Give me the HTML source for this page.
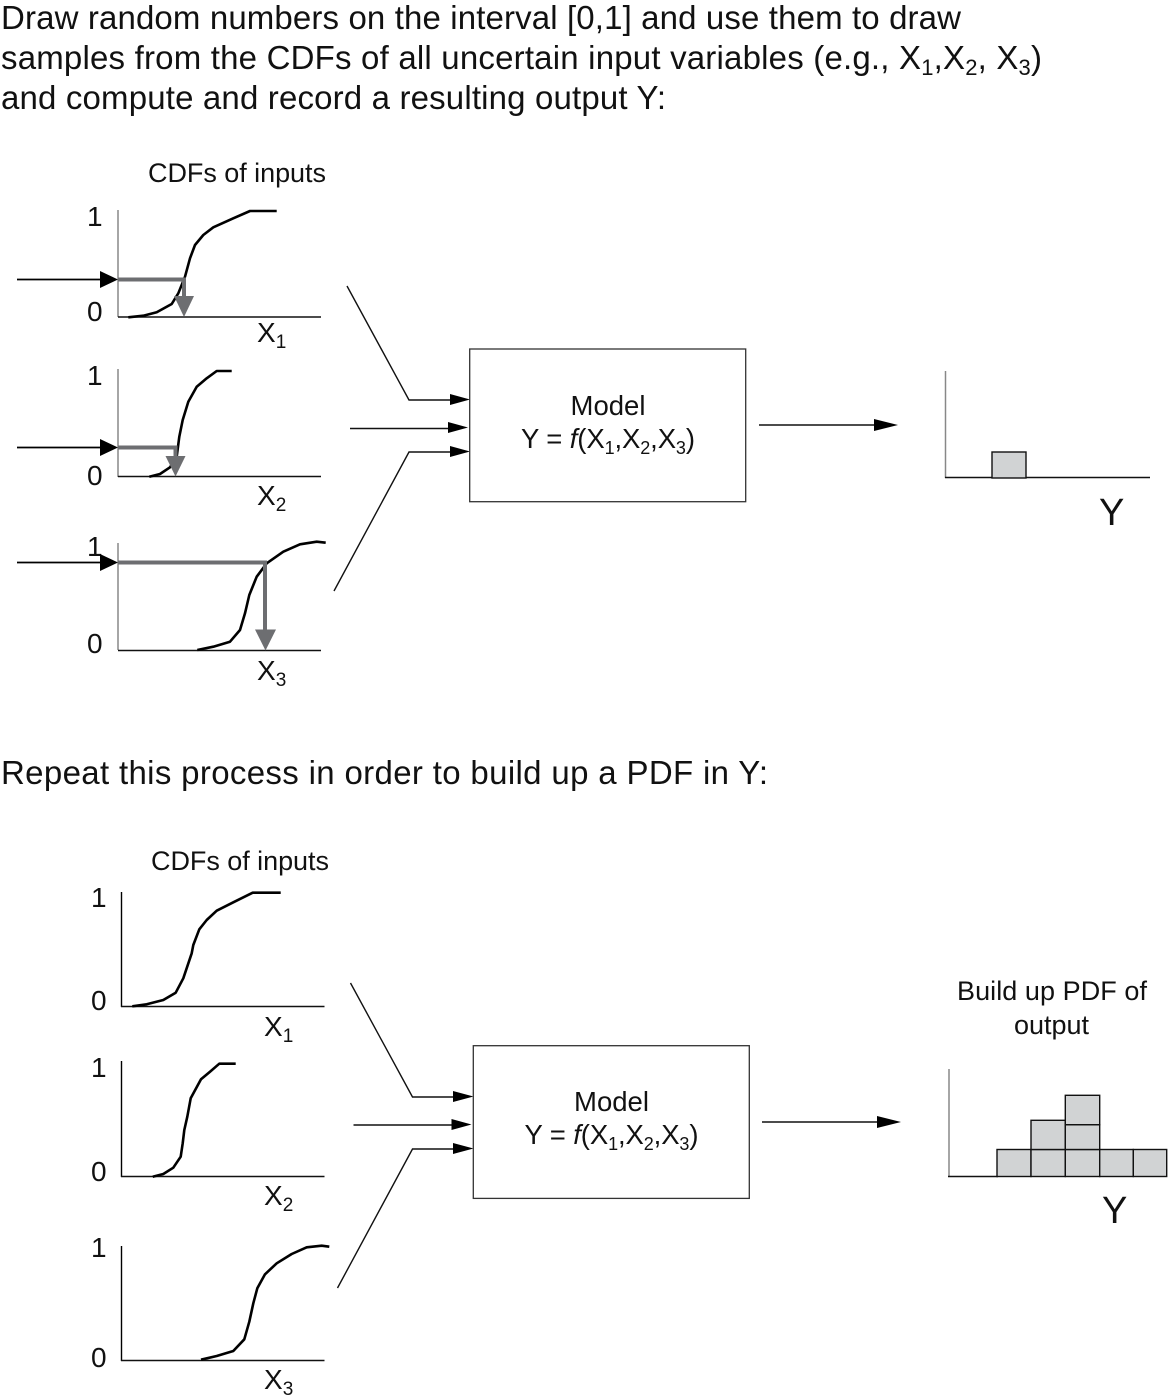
<!DOCTYPE html>
<html><head><meta charset="utf-8"><style>
html,body{margin:0;padding:0;background:#fff}
svg{display:block}
text{font-family:"Liberation Sans",sans-serif;fill:#111}
.h{font-size:33px}
.m{font-size:27.5px}
.l{font-size:27px}
.x{font-size:28px}
.c{fill:none;stroke:#000;stroke-width:2.6;stroke-linejoin:round}
.a{stroke:#111;stroke-width:1.4;fill:none}
.t{stroke:#000;stroke-width:1.8;fill:none}
.g{stroke:#6d6e71;stroke-width:4;fill:none}
.gh{fill:#6d6e71}
.b{fill:#d1d3d4;stroke:#111;stroke-width:1.4}
.y{stroke:#888;stroke-width:1.5}
</style></head><body>
<svg width="1168" height="1400" viewBox="0 0 1168 1400" xmlns="http://www.w3.org/2000/svg">
<text class="h" x="1" y="29" textLength="960">Draw random numbers on the interval [0,1] and use them to draw</text>
<text class="h" x="1" y="69" textLength="1041">samples from the CDFs of all uncertain input variables (e.g., X<tspan font-size="22" dy="6">1</tspan><tspan dy="-6">,X</tspan><tspan font-size="22" dy="6">2</tspan><tspan dy="-6">, X</tspan><tspan font-size="22" dy="6">3</tspan><tspan dy="-6">)</tspan></text>
<text class="h" x="1" y="109" textLength="665">and compute and record a resulting output Y:</text>
<text class="h" x="1" y="784" textLength="767">Repeat this process in order to build up a PDF in Y:</text>

<!-- TOP: graph 1 -->
<text class="l" x="148" y="182" textLength="178">CDFs of inputs</text>
<text class="x" x="87" y="226">1</text><text class="x" x="87" y="321">0</text>
<line class="y" x1="118" y1="210" x2="118" y2="317"/><line class="a" x1="118" y1="317" x2="321" y2="317"/>
<polyline class="c" points="128.3,317.3 143.3,315.7 156.7,312.3 171.7,304 178.3,293.3 185,276.7 190,258.3 195,245 203.3,235 213.3,227.3 233.3,218.3 250,211 276.7,211"/>
<line class="t" x1="17" y1="279.5" x2="102" y2="279.5"/><polygon points="100,271 118,279.5 100,288" fill="#000"/>
<polyline class="g" points="118,279.5 184,279.5 184,298"/><polygon class="gh" points="174,296 194,296 184,317"/>
<text class="x" x="257" y="342">X<tspan font-size="19" dy="6">1</tspan></text>

<!-- TOP: graph 2 -->
<text class="x" x="87" y="385">1</text><text class="x" x="87" y="485">0</text>
<line class="y" x1="118" y1="369" x2="118" y2="477"/><line class="a" x1="118" y1="476.5" x2="321" y2="476.5"/>
<polyline class="c" points="149.3,476.7 160,474 170,467.3 176.7,456.7 179.3,436.7 182.7,420 188.3,401.7 196.7,386.7 206.7,378.3 216.7,371 231.7,371"/>
<line class="t" x1="17" y1="447.5" x2="102" y2="447.5"/><polygon points="100,439 118,447.5 100,456" fill="#000"/>
<polyline class="g" points="118,447.5 175.5,447.5 175.5,458"/><polygon class="gh" points="165.5,456 185.5,456 175.5,476.5"/>
<text class="x" x="257" y="505">X<tspan font-size="19" dy="6">2</tspan></text>

<!-- TOP: graph 3 -->
<text class="x" x="87" y="556">1</text><text class="x" x="87" y="653">0</text>
<line class="y" x1="118" y1="543" x2="118" y2="650"/><line class="a" x1="118" y1="650.5" x2="321" y2="650.5"/>
<polyline class="c" points="197.3,650 213.3,646.7 230,641.7 240,630 245,613.3 249.3,595 256.7,576.7 266.7,563.3 283.3,551.7 300,544.3 316.7,541.7 325.7,542.7"/>
<line class="t" x1="17" y1="562.5" x2="102" y2="562.5"/><polygon points="100,554 118,562.5 100,571" fill="#000"/>
<polyline class="g" points="118,562.5 265,562.5 265,631"/><polygon class="gh" points="255,629.5 276,629.5 265.5,650.5"/>
<text class="x" x="257" y="680">X<tspan font-size="19" dy="6">3</tspan></text>

<!-- TOP: model -->
<polyline class="a" points="347,286 409,400 452,400"/><polygon points="450,394 470,399.5 450,405" fill="#000"/>
<line class="a" x1="350" y1="428.5" x2="450" y2="428.5"/><polygon points="448,422 468,427.5 448,433" fill="#000"/>
<polyline class="a" points="334,591 409,452 452,452"/><polygon points="450,446 470,451.5 450,457" fill="#000"/>
<rect x="469.7" y="349" width="276" height="152.7" fill="#fff" stroke="#333" stroke-width="1.3"/>
<text class="m" x="608" y="415" text-anchor="middle">Model</text>
<text class="m" x="521" y="448" textLength="174">Y = <tspan font-style="italic">f</tspan>(X<tspan font-size="18" dy="6">1</tspan><tspan dy="-6">,X</tspan><tspan font-size="18" dy="6">2</tspan><tspan dy="-6">,X</tspan><tspan font-size="18" dy="6">3</tspan><tspan dy="-6">)</tspan></text>
<line class="a" x1="759" y1="425" x2="876" y2="425"/><polygon points="874,419 898,425 874,431" fill="#000"/>

<!-- TOP: output -->
<line class="y" x1="945.5" y1="371" x2="945.5" y2="478"/><line class="a" x1="945" y1="477.5" x2="1150" y2="477.5"/>
<rect class="b" x="992" y="452" width="34" height="26"/>
<text x="1099" y="525" font-size="38">Y</text>

<!-- BOTTOM: graph 1 -->
<text class="l" x="151" y="870" textLength="178">CDFs of inputs</text>
<text class="x" x="91" y="907">1</text><text class="x" x="91" y="1010">0</text>
<line class="t" x1="121.5" y1="892" x2="121.5" y2="1007" style="stroke-width:1.4"/><line class="a" x1="121" y1="1006.5" x2="324.5" y2="1006.5"/>
<polyline class="c" points="132.3,1006.3 146.7,1004.3 163.3,1000 175.7,992.7 183.3,978.3 191.7,953.3 193.3,945 199.3,929.3 206.7,920 216.7,910.7 233.3,902.3 252.7,892.7 280.7,892.7"/>
<text class="x" x="264" y="1036">X<tspan font-size="19" dy="6">1</tspan></text>

<!-- BOTTOM: graph 2 -->
<text class="x" x="91" y="1077">1</text><text class="x" x="91" y="1181">0</text>
<line class="t" x1="121.5" y1="1061" x2="121.5" y2="1177" style="stroke-width:1.4"/><line class="a" x1="121" y1="1176.5" x2="324.5" y2="1176.5"/>
<polyline class="c" points="152.7,1176.7 163.3,1174 173.3,1167.7 180.7,1156.7 182.7,1143.3 184.3,1130 187.3,1116.7 190.7,1098.3 201,1079.3 210,1071.7 219.3,1063.7 235.7,1063.7"/>
<text class="x" x="264" y="1205">X<tspan font-size="19" dy="6">2</tspan></text>

<!-- BOTTOM: graph 3 -->
<text class="x" x="91" y="1257">1</text><text class="x" x="91" y="1367">0</text>
<line class="t" x1="121.5" y1="1246" x2="121.5" y2="1361" style="stroke-width:1.4"/><line class="a" x1="121" y1="1360.5" x2="324.5" y2="1360.5"/>
<polyline class="c" points="201,1359.7 216.7,1356 233.3,1351 244.3,1339.3 249.3,1321.7 253.3,1303.3 257.3,1288.3 265,1274.3 276.7,1263.3 291.7,1254 306.7,1247.3 321.7,1245.7 329.3,1246.7"/>
<text class="x" x="264" y="1389">X<tspan font-size="19" dy="6">3</tspan></text>

<!-- BOTTOM: model -->
<polyline class="a" points="350.5,983 412.5,1097 455,1097"/><polygon points="453,1091 473.5,1096.5 453,1102" fill="#000"/>
<line class="a" x1="353.5" y1="1125" x2="453" y2="1125"/><polygon points="451.5,1119 471.5,1124.5 451.5,1130" fill="#000"/>
<polyline class="a" points="337.5,1288 412.5,1149 455,1149"/><polygon points="453,1143 473.5,1148.5 453,1154" fill="#000"/>
<rect x="473.3" y="1045.7" width="276" height="152.7" fill="#fff" stroke="#333" stroke-width="1.3"/>
<text class="m" x="611.5" y="1111" text-anchor="middle">Model</text>
<text class="m" x="524.5" y="1144" textLength="174">Y = <tspan font-style="italic">f</tspan>(X<tspan font-size="18" dy="6">1</tspan><tspan dy="-6">,X</tspan><tspan font-size="18" dy="6">2</tspan><tspan dy="-6">,X</tspan><tspan font-size="18" dy="6">3</tspan><tspan dy="-6">)</tspan></text>
<line class="a" x1="762" y1="1122" x2="879" y2="1122"/><polygon points="877,1116 901,1122 877,1128" fill="#000"/>

<!-- BOTTOM: output -->
<text class="l" x="957" y="1000" textLength="190">Build up PDF of</text>
<text class="l" x="1051.5" y="1034" text-anchor="middle">output</text>
<line class="y" x1="949" y1="1069" x2="949" y2="1177"/><line class="a" x1="948" y1="1176.5" x2="998" y2="1176.5"/>
<rect class="b" x="997" y="1149.5" width="34" height="27"/>
<rect class="b" x="1031" y="1149.5" width="34.3" height="27"/>
<rect class="b" x="1065.3" y="1149.5" width="34.4" height="27"/>
<rect class="b" x="1099.7" y="1149.5" width="33.6" height="27"/>
<rect class="b" x="1133.3" y="1149.5" width="33.4" height="27"/>
<rect class="b" x="1031" y="1120.3" width="34.3" height="29.2"/>
<rect class="b" x="1065.3" y="1124.7" width="34.4" height="24.8"/>
<rect class="b" x="1065.3" y="1095.3" width="34.4" height="29.4"/>
<text x="1102" y="1223" font-size="38">Y</text>
</svg>
</body></html>
